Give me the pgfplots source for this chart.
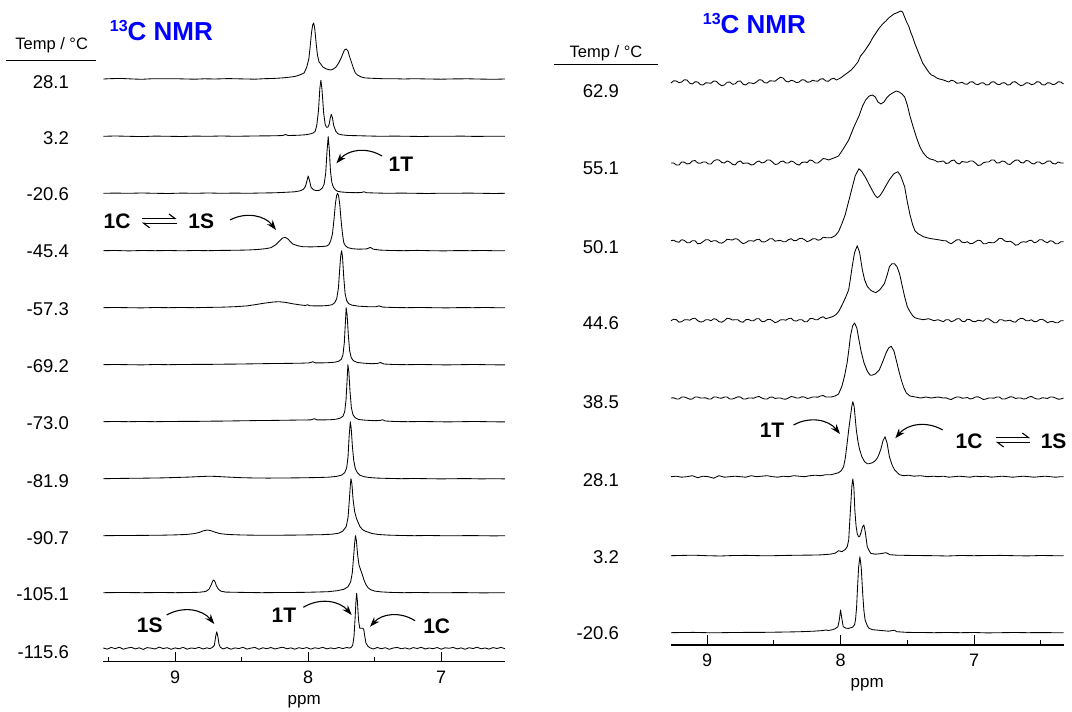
\documentclass[border=0pt]{standalone}
\usepackage{pgfplots}
\pgfplotsset{compat=1.18}
\usepackage{fontspec}
\setmainfont{Liberation Sans}
\usetikzlibrary{arrows.meta}
\newcommand{\fs}[1]{\fontsize{#1}{#1}\selectfont}
\definecolor{nmrblue}{RGB}{0,0,255}
\pgfplotsset{
  nmr/.style={
    scale only axis,
    axis x line*=bottom, axis y line=none,
    axis line style={line width=1.2pt,-},
    x dir=reverse,
    xtick={9,8,7}, xticklabels={9,8,7},
    minor xtick={9.5,8.5,7.5,6.5},
    tick align=inside,
    major tick length=10pt, minor tick length=5pt,
    every tick/.style={black,line width=1pt},
    ymin=0,
    xticklabel style={font=\fs{18}, inner sep=0pt, yshift=-9pt},
    /pgf/number format/assume math mode=true,
    xlabel={ppm},
    xlabel style={font=\fs{17}, inner sep=0pt, at={(axis description cs:0.5,0)}, anchor=center, yshift=-40pt},
    clip=false,
  },
  tr/.style={black, line width=0.85pt, line join=round, no markers, y filter/.expression={y+#1}},
}
\begin{document}
\begin{tikzpicture}[x=1pt,y=1pt]
\useasboundingbox (0,0) rectangle (1072,712);
% ---------------- LEFT PANEL ----------------
\begin{axis}[nmr, at={(103.3pt,50.3pt)}, anchor=south west,
  width=401.7pt, height=650pt, xmin=6.52, xmax=9.54, ymax=650]
% 28.1
\addplot[tr=582.7] coordinates {(9.54,0)(9.47,0.4)(9.40,0.5)(9.32,0)(9.25,-0.3)(9.18,0.2)(9.10,0.3)(9.00,0.3)(8.92,0)(8.85,-0.2)(8.78,0.2)(8.70,0)(8.60,0.4)(8.50,0.1)(8.40,-0.2)(8.33,0.3)(8.27,0.5)(8.20,1)(8.14,1.8)(8.10,2.5)(8.064,4)(8.03,6)(8.01,12)(7.995,20)(7.985,32)(7.975,46)(7.966,54)(7.958,56)(7.95,50)(7.94,36)(7.93,24)(7.918,17)(7.905,15)(7.89,12)(7.87,10.5)(7.85,9.5)(7.83,9)(7.81,10)(7.79,12)(7.77,16)(7.755,20)(7.74,25)(7.727,29)(7.714,30)(7.70,28)(7.69,23)(7.675,17)(7.66,11)(7.645,6)(7.63,4)(7.60,2)(7.57,1)(7.50,0.6)(7.44,0.3)(7.36,0.3)(7.28,0)(7.20,0.3)(7.10,0)(7.00,-0.2)(6.90,0.1)(6.80,0.2)(6.70,-0.1)(6.60,-0.3)(6.52,0)};
% 3.2
\addplot[tr=525.4] coordinates {(9.54,0)(9.45,0.3)(9.35,0)(9.25,-0.3)(9.15,0.2)(9.05,0)(8.95,-0.2)(8.85,0.2)(8.75,0)(8.65,0.3)(8.55,0)(8.45,0.2)(8.35,0.4)(8.25,0.5)(8.19,0.8)(8.17,1.8)(8.15,0.8)(8.08,1)(8.02,1.5)(7.98,2.5)(7.96,3.5)(7.947,5)(7.935,11)(7.922,26)(7.912,48)(7.904,56)(7.896,47)(7.883,23)(7.872,12)(7.862,9)(7.852,9)(7.842,12)(7.834,18)(7.826,22)(7.818,19)(7.808,11)(7.792,5)(7.775,2.5)(7.75,1.5)(7.70,0.8)(7.63,0.6)(7.55,0.3)(7.45,0)(7.35,0.2)(7.25,0)(7.15,-0.2)(7.05,0.1)(6.95,0)(6.85,0.2)(6.75,-0.1)(6.65,0)(6.52,0)};
% -20.6
\addplot[tr=468.4] coordinates {(9.54,0)(9.45,0.2)(9.35,0)(9.25,0.3)(9.15,0)(9.05,-0.2)(8.95,0.2)(8.85,0)(8.75,0.3)(8.65,0)(8.55,0.2)(8.45,0)(8.35,0.3)(8.25,0.5)(8.17,1)(8.10,1.5)(8.06,2.5)(8.035,4)(8.02,7)(8.01,12)(8.0,17.3)(7.99,13)(7.978,6)(7.96,3.5)(7.94,2.7)(7.915,3)(7.895,5)(7.88,9)(7.868,20)(7.858,42)(7.849,56.7)(7.841,44)(7.832,22)(7.822,11)(7.81,6)(7.795,3.5)(7.78,2)(7.75,1.3)(7.70,0.8)(7.64,0.6)(7.60,0.8)(7.58,1.5)(7.56,0.6)(7.50,0.3)(7.40,0)(7.30,0.2)(7.20,0)(7.10,-0.2)(7.00,0.1)(6.90,0)(6.80,0.2)(6.70,0)(6.60,-0.2)(6.52,0)};
% -45.4
\addplot[tr=411] coordinates {(9.54,0)(9.45,0.2)(9.35,-0.2)(9.25,0.2)(9.15,0)(9.05,0.2)(8.95,-0.1)(8.85,0.2)(8.75,0)(8.65,0.3)(8.55,0.4)(8.45,0.7)(8.38,1.2)(8.32,2)(8.28,3)(8.246,5.7)(8.22,9)(8.195,12.5)(8.173,13.4)(8.15,11.5)(8.13,8.5)(8.116,6.7)(8.08,5)(8.04,4)(7.98,3.8)(7.935,4)(7.89,4.2)(7.86,4.7)(7.844,6)(7.83,10)(7.817,17)(7.805,32)(7.795,47)(7.786,55)(7.779,57.4)(7.771,55)(7.762,46)(7.752,30)(7.742,17)(7.732,8)(7.72,5)(7.70,3)(7.67,2)(7.62,1.5)(7.56,1.8)(7.532,3.3)(7.51,1.5)(7.46,0.6)(7.38,0.2)(7.28,0)(7.18,0.3)(7.08,0)(6.98,-0.2)(6.88,0.1)(6.78,0)(6.68,0.2)(6.58,-0.1)(6.52,0)};
% -57.3
\addplot[tr=354] coordinates {(9.54,0)(9.45,0.2)(9.35,0)(9.25,-0.2)(9.15,0.2)(9.05,0)(8.95,0.2)(8.85,0)(8.75,0.3)(8.65,0.5)(8.55,1)(8.46,1.8)(8.40,3)(8.33,4.5)(8.26,5.7)(8.22,6)(8.17,5.3)(8.12,4)(8.06,2.8)(8.02,2.2)(8.005,3)(7.99,2)(7.95,1.8)(7.90,1.8)(7.85,2.2)(7.82,3)(7.80,5)(7.785,9)(7.772,20)(7.762,40)(7.755,52)(7.748,57)(7.741,50)(7.732,30)(7.722,14)(7.71,7)(7.695,4)(7.67,2.5)(7.62,1.5)(7.55,1)(7.49,1)(7.468,1.8)(7.44,0.6)(7.36,0.2)(7.26,0)(7.16,0.2)(7.06,0)(6.96,-0.2)(6.86,0.1)(6.76,0)(6.66,0.2)(6.56,-0.1)(6.52,0)};
% -69.2
\addplot[tr=297] coordinates {(9.54,0)(9.45,0.2)(9.35,0)(9.25,-0.2)(9.15,0.2)(9.05,0)(8.95,0.2)(8.85,0.3)(8.75,0.3)(8.65,0.5)(8.55,0.6)(8.45,0.8)(8.35,1)(8.25,1.2)(8.15,1.3)(8.05,1.5)(7.99,1.8)(7.965,3)(7.945,1.8)(7.90,1.8)(7.85,2)(7.80,2.5)(7.77,3.5)(7.75,5.5)(7.738,10)(7.728,22)(7.72,42)(7.714,57)(7.707,50)(7.698,30)(7.688,14)(7.676,7)(7.66,4)(7.63,2.2)(7.58,1.5)(7.52,1)(7.48,1.2)(7.456,2.2)(7.43,0.7)(7.36,0.2)(7.26,0)(7.16,0.2)(7.06,0)(6.96,-0.2)(6.86,0)(6.76,0.2)(6.66,0)(6.56,-0.2)(6.52,-0.2)};
% -73.0
\addplot[tr=240] coordinates {(9.54,0)(9.45,0.2)(9.35,0)(9.25,0.2)(9.15,0)(9.05,0.2)(8.95,0.3)(8.85,0.3)(8.75,0.5)(8.65,0.6)(8.55,0.8)(8.45,1)(8.35,1.2)(8.25,1.3)(8.15,1.5)(8.05,1.7)(7.98,1.8)(7.952,3)(7.935,1.8)(7.88,1.8)(7.83,2)(7.79,2.5)(7.76,3.5)(7.738,5.5)(7.725,10)(7.715,22)(7.707,42)(7.701,57)(7.694,50)(7.685,30)(7.675,14)(7.663,7)(7.647,4)(7.62,2.2)(7.57,1.5)(7.50,1)(7.46,1.2)(7.44,2)(7.42,0.7)(7.35,0.2)(7.25,0)(7.15,0.2)(7.05,0)(6.95,-0.2)(6.85,0)(6.75,0.2)(6.65,0)(6.55,-0.2)(6.52,-0.2)};
% -81.9
\addplot[tr=183] coordinates {(9.54,0)(9.40,0.3)(9.25,0.5)(9.10,0.8)(9.00,1.2)(8.90,1.6)(8.80,2.2)(8.74,2.5)(8.68,2.2)(8.60,1.6)(8.50,1)(8.40,0.7)(8.30,0.6)(8.20,0.7)(8.10,0.8)(8.00,1)(7.92,1.2)(7.85,1.5)(7.79,2.2)(7.75,3.5)(7.725,6)(7.71,11)(7.70,22)(7.692,42)(7.683,57)(7.676,50)(7.667,32)(7.657,18)(7.645,10)(7.63,6)(7.61,3.5)(7.58,2)(7.54,1.2)(7.48,0.6)(7.40,0.3)(7.30,0)(7.20,0.2)(7.10,0)(7.00,-0.2)(6.90,0)(6.80,0.1)(6.70,-0.2)(6.60,0)(6.52,-0.2)};
% -90.7
\addplot[tr=126] coordinates {(9.54,0)(9.40,0.2)(9.25,0.3)(9.10,0.5)(9.00,0.8)(8.92,1.2)(8.86,2)(8.82,3.2)(8.79,4.8)(8.757,5.7)(8.73,5)(8.70,3.5)(8.66,2)(8.60,1.2)(8.50,0.7)(8.40,0.5)(8.30,0.5)(8.20,0.5)(8.10,0.6)(8.00,0.8)(7.90,1)(7.82,1.5)(7.77,2.5)(7.74,4.5)(7.714,9)(7.70,18)(7.69,36)(7.683,50)(7.678,57)(7.671,52)(7.662,36)(7.65,24)(7.636,17)(7.62,12)(7.61,9)(7.59,6)(7.57,4.5)(7.547,3.5)(7.52,2.2)(7.47,1.2)(7.40,0.6)(7.30,0.2)(7.20,0)(7.10,0.2)(7.00,0)(6.90,-0.1)(6.80,0.1)(6.70,0)(6.60,-0.2)(6.52,0)};
% -105.1
\addplot[tr=69] coordinates {(9.54,0)(9.40,0.2)(9.25,0)(9.10,0.2)(9.00,0)(8.90,0.2)(8.82,0.4)(8.77,1.2)(8.745,3.5)(8.728,8)(8.718,11.5)(8.71,12.7)(8.70,11)(8.69,7)(8.675,3.5)(8.655,1.5)(8.62,0.6)(8.50,0.3)(8.35,0)(8.20,0.2)(8.05,0.3)(7.95,0.6)(7.85,1)(7.78,2)(7.73,3.5)(7.70,6)(7.68,11)(7.668,20)(7.658,36)(7.65,50)(7.644,57)(7.637,52)(7.628,38)(7.618,28)(7.605,22.7)(7.59,17)(7.58,12.7)(7.565,8)(7.55,5)(7.53,3)(7.50,1.6)(7.45,0.8)(7.38,0.3)(7.28,0)(7.18,0.2)(7.08,0)(6.98,-0.1)(6.88,0.1)(6.78,0)(6.68,-0.2)(6.58,0)(6.52,0)};
% -115.6
\addplot[tr=13.4] coordinates {(9.54,0.3)(9.51,-0.8)(9.48,0.9)(9.45,-0.4)(9.42,1.1)(9.39,-0.9)(9.36,0.2)(9.33,1.0)(9.30,-0.6)(9.27,0.5)(9.24,-1.1)(9.21,0.7)(9.18,0.1)(9.15,-0.7)(9.12,1.2)(9.09,-0.3)(9.06,0.6)(9.03,-1.0)(9.00,0.4)(8.97,-0.5)(8.94,1.0)(8.91,-0.9)(8.88,0.3)(8.85,-0.2)(8.82,0.9)(8.79,-0.7)(8.76,0.5)(8.74,-0.4)(8.72,0.8)(8.705,3)(8.695,12)(8.687,16.5)(8.679,12)(8.67,4)(8.66,1)(8.64,-0.6)(8.61,0.7)(8.58,-0.9)(8.55,0.4)(8.52,-0.3)(8.49,1.0)(8.46,-0.8)(8.43,0.2)(8.40,0.9)(8.37,-1.0)(8.34,0.5)(8.31,-0.4)(8.28,0.8)(8.25,-0.7)(8.22,0.3)(8.19,1.1)(8.16,-0.5)(8.13,0.4)(8.10,-0.9)(8.07,0.6)(8.04,-0.3)(8.01,0.7)(7.98,-0.8)(7.95,0.5)(7.92,-0.2)(7.89,1.0)(7.86,-0.6)(7.83,0.4)(7.80,-0.5)(7.77,0.9)(7.74,-0.3)(7.71,0.8)(7.69,0.2)(7.675,1)(7.665,3)(7.655,12)(7.647,30)(7.64,48)(7.635,55)(7.629,46)(7.621,28)(7.612,20)(7.60,20)(7.59,20)(7.582,19)(7.574,12)(7.565,5)(7.55,2)(7.535,0.5)(7.51,-0.7)(7.48,0.8)(7.45,-0.4)(7.42,0.6)(7.39,-1.0)(7.36,0.3)(7.33,0.9)(7.30,-0.5)(7.27,0.4)(7.24,-0.8)(7.21,0.7)(7.18,-0.2)(7.15,1.0)(7.12,-0.7)(7.09,0.3)(7.06,-0.4)(7.03,0.8)(7.00,-0.9)(6.97,0.5)(6.94,0.0)(6.91,0.9)(6.88,-0.6)(6.85,0.4)(6.82,-1.0)(6.79,0.6)(6.76,-0.3)(6.73,1.1)(6.70,-0.5)(6.67,0.3)(6.64,-0.8)(6.61,0.7)(6.58,-0.2)(6.55,0.9)(6.52,-0.4)};
\end{axis}
% ---------------- RIGHT PANEL ----------------
\begin{axis}[nmr, at={(671pt,67pt)}, anchor=south west,
  width=392.5pt, height=640pt, xmin=6.33, xmax=9.27, ymax=640]
% 62.9
\addplot[tr=562] coordinates {(9.27,0)(9.25,2.2)(9.23,2)(9.21,0.3)(9.19,1)(9.17,3.2)(9.15,3)(9.13,-0.2)(9.11,-1)(9.09,1.2)(9.07,1)(9.05,-1.7)(9.03,-2)(9.01,0.2)(8.99,0)(8.97,-0.2)(8.95,2)(8.93,1.7)(8.91,-1)(8.89,-2.7)(8.87,-2)(8.85,0.7)(8.83,1)(8.81,-1.2)(8.79,-1)(8.77,1.7)(8.75,2)(8.73,-1.2)(8.71,-2)(8.69,0.2)(8.67,0)(8.65,-0.7)(8.63,1)(8.61,3.2)(8.59,3)(8.57,0.3)(8.55,0)(8.53,2.2)(8.51,2)(8.49,1.8)(8.47,4)(8.45,5.7)(8.43,5)(8.41,1.8)(8.39,1)(8.37,2.7)(8.35,2)(8.33,0.3)(8.31,1)(8.29,3.2)(8.27,3)(8.25,0.8)(8.23,1)(8.21,2.7)(8.19,2)(8.17,1.8)(8.15,4)(8.13,4.2)(8.11,2)(8.09,1.8)(8.07,4)(8.05,4.7)(8.03,3)(8.00,5)(7.97,8)(7.95,10)(7.92,13)(7.90,16)(7.87,21)(7.85,27)(7.82,32)(7.80,36)(7.78,40)(7.76,45)(7.735,50)(7.71,55)(7.685,59)(7.66,62)(7.64,65)(7.62,67)(7.60,69)(7.58,70)(7.565,71)(7.55,72)(7.535,71)(7.52,66)(7.505,61)(7.49,57)(7.475,51)(7.46,46)(7.445,40)(7.43,35)(7.415,30)(7.40,25)(7.385,20)(7.37,17)(7.355,14)(7.34,11)(7.32,8)(7.30,7)(7.28,5)(7.26,4)(7.23,3)(7.19,1)(7.17,2.7)(7.15,2)(7.13,-0.2)(7.11,0)(7.09,0.7)(7.07,-1)(7.05,-1.2)(7.03,1)(7.01,1.2)(6.99,-1)(6.97,-1.7)(6.95,0)(6.93,0.2)(6.91,-2)(6.89,-1.7)(6.87,1)(6.85,1.2)(6.83,-1)(6.81,-1.7)(6.79,0)(6.77,0.2)(6.75,-2)(6.73,-1.7)(6.71,1)(6.69,1.2)(6.67,-1)(6.65,-2.7)(6.63,-2)(6.61,0.2)(6.59,0)(6.57,-1.7)(6.55,-1)(6.53,1.2)(6.51,1)(6.49,-1.7)(6.47,-2)(6.45,0.2)(6.43,0)(6.41,-1.7)(6.39,-1)(6.37,1.2)(6.35,1)(6.33,-1)};
% 55.1
\addplot[tr=482] coordinates {(9.27,0)(9.25,0)(9.23,-2)(9.21,-2)(9.19,1)(9.17,0.8)(9.15,-1)(9.13,-0.5)(9.11,2)(9.09,2.5)(9.07,0)(9.05,-0.3)(9.03,1)(9.01,1)(8.99,-1)(8.97,-1)(8.95,2)(8.93,3.3)(8.91,3)(8.89,0.5)(8.87,0)(8.85,2)(8.83,1)(8.81,-1.3)(8.79,-2)(8.77,1)(8.75,2)(8.73,-0.5)(8.71,0)(8.69,-0.2)(8.67,-2)(8.65,-1.5)(8.63,1)(8.61,2)(8.59,0)(8.57,0.7)(8.55,3)(8.53,3)(8.51,1)(8.49,-1.5)(8.47,-1)(8.45,1.3)(8.43,2)(8.41,0)(8.39,0)(8.37,2)(8.35,1)(8.33,-1.3)(8.31,-2)(8.29,0.5)(8.27,1)(8.25,0.5)(8.23,3)(8.21,2.3)(8.19,0)(8.17,0)(8.15,2)(8.13,4.5)(8.11,4)(8.09,3)(8.05,5)(8.015,7)(7.98,14)(7.939,23)(7.90,36)(7.862,47)(7.835,57)(7.812,63)(7.785,67)(7.761,68)(7.74,66)(7.72,61)(7.697,59)(7.675,61)(7.655,65)(7.634,68)(7.61,70)(7.583,72)(7.56,71)(7.54,69)(7.52,66)(7.50,58)(7.48,47)(7.456,36)(7.43,25)(7.405,16)(7.38,10)(7.354,6)(7.33,4)(7.30,3)(7.27,1)(7.23,2)(7.21,-0.5)(7.19,0)(7.17,2.3)(7.15,3)(7.13,0)(7.11,-1)(7.09,1.5)(7.07,1)(7.05,0.7)(7.03,2)(7.01,2)(6.99,0)(6.97,-2.5)(6.95,-2)(6.93,0.3)(6.91,1)(6.89,1)(6.87,3)(6.85,3)(6.83,0)(6.81,0.2)(6.79,2)(6.77,1.5)(6.75,-1)(6.73,-1.5)(6.71,1)(6.69,2.8)(6.67,3)(6.65,0.5)(6.63,0)(6.61,2.5)(6.59,2)(6.57,-0.3)(6.55,-1)(6.53,1)(6.51,1)(6.49,-1)(6.47,0)(6.45,1.8)(6.43,2)(6.41,-0.5)(6.39,-1)(6.37,1)(6.35,0)(6.33,0)};
% 50.1
\addplot[tr=403.3] coordinates {(9.27,1)(9.25,1.5)(9.23,0)(9.21,-0.5)(9.19,2)(9.17,1.3)(9.15,-1)(9.13,-1)(9.11,1)(9.09,1)(9.07,-2)(9.05,-1.8)(9.03,0)(9.01,2)(8.99,2)(8.97,0)(8.95,1)(8.93,0.8)(8.91,-1)(8.89,-1.5)(8.87,0)(8.85,2.5)(8.83,2)(8.81,1.7)(8.79,3)(8.77,2.5)(8.75,0)(8.73,-2)(8.71,-1)(8.69,0.8)(8.67,1)(8.65,0.5)(8.63,2)(8.61,2.5)(8.59,0)(8.57,-0.3)(8.55,1)(8.53,3)(8.51,3)(8.49,0.5)(8.47,1)(8.45,1.3)(8.43,0)(8.41,0)(8.39,2)(8.37,3)(8.35,1)(8.33,1.2)(8.31,3)(8.29,3.5)(8.27,2)(8.25,0)(8.23,1)(8.21,2.8)(8.19,3)(8.17,1.5)(8.15,2)(8.13,4.5)(8.11,4)(8.07,4)(8.04,6)(8.015,10)(7.99,18)(7.965,27)(7.94,40)(7.913,54)(7.89,66)(7.862,73)(7.84,70)(7.812,64)(7.785,57)(7.761,51)(7.74,46)(7.723,44)(7.705,46)(7.685,50)(7.66,56)(7.634,62)(7.60,68)(7.571,70)(7.55,66)(7.52,55)(7.50,40)(7.48,27)(7.46,17)(7.443,11)(7.42,8)(7.405,7)(7.38,5)(7.354,4)(7.32,3)(7.27,2)(7.23,1)(7.21,1)(7.19,-1)(7.17,-2)(7.15,0)(7.13,1.8)(7.11,2)(7.09,-0.5)(7.07,-1)(7.05,0)(7.03,-2)(7.01,-1.8)(6.99,0)(6.97,1.5)(6.95,1)(6.93,-2)(6.91,-2)(6.89,-0.7)(6.87,-1)(6.85,-1)(6.83,1)(6.81,3.5)(6.79,3)(6.77,0.7)(6.75,0)(6.73,0.5)(6.71,-1)(6.69,-3.5)(6.67,-3)(6.65,-0.7)(6.63,0)(6.61,-0.5)(6.59,1)(6.57,1.5)(6.55,-1)(6.53,-0.3)(6.51,2)(6.49,2)(6.47,0)(6.45,-1)(6.43,1)(6.41,0.3)(6.39,-2)(6.37,-2)(6.35,0)(6.33,0)};
% 44.6
\addplot[tr=324.3] coordinates {(9.27,0)(9.25,1.5)(9.23,1)(9.21,-1.5)(9.19,-1)(9.17,0.8)(9.15,1)(9.13,0.5)(9.11,2)(9.09,2.5)(9.07,0)(9.05,-1.3)(9.03,-1)(9.01,1)(8.99,1)(8.97,0)(8.95,2)(8.93,1.3)(8.91,-1)(8.89,-1.5)(8.87,0)(8.85,2.5)(8.83,2)(8.81,0.7)(8.79,1)(8.77,1)(8.75,-1)(8.73,-1.5)(8.71,1)(8.69,1.3)(8.67,0)(8.65,0)(8.63,2)(8.61,2)(8.59,-1)(8.57,-0.8)(8.55,1)(8.53,1.5)(8.51,0)(8.49,-2)(8.47,-1)(8.45,0.8)(8.43,1)(8.41,0.5)(8.39,2)(8.37,2.5)(8.35,0)(8.33,-0.3)(8.31,1)(8.29,1)(8.27,-1)(8.25,-1)(8.23,2)(8.21,2.3)(8.19,1)(8.17,1)(8.15,3)(8.13,4)(8.11,2)(8.06,4)(8.035,6)(8.015,9)(7.995,14)(7.977,19)(7.96,24)(7.939,31)(7.926,42)(7.913,54)(7.895,68)(7.875,75)(7.857,68)(7.837,51)(7.82,41)(7.799,34)(7.77,30)(7.736,28)(7.705,31)(7.672,37)(7.65,46)(7.634,54)(7.615,57)(7.596,57)(7.577,54)(7.558,47)(7.54,36)(7.52,24)(7.50,14)(7.48,9)(7.46,5)(7.443,3)(7.42,2)(7.38,1)(7.34,2)(7.30,0)(7.27,1)(7.23,-1)(7.21,1)(7.19,1)(7.17,-1)(7.15,0)(7.13,1.8)(7.11,2)(7.09,-0.5)(7.07,-1)(7.05,1.5)(7.03,1)(7.01,-0.8)(6.99,-1)(6.97,0.5)(6.95,0)(6.93,-0.5)(6.91,2)(6.89,1.8)(6.87,0)(6.85,-2)(6.83,-2)(6.81,1)(6.79,1)(6.77,-0.3)(6.75,0)(6.73,0.5)(6.71,-1)(6.69,-1.5)(6.67,1)(6.65,2.3)(6.63,2)(6.61,0)(6.59,0)(6.57,1)(6.55,-1)(6.53,-0.8)(6.51,1)(6.49,1.5)(6.47,0)(6.45,-2)(6.43,-1)(6.41,-0.7)(6.39,-2)(6.37,-2)(6.35,0)(6.33,0)};
% 38.5
\addplot[tr=247] coordinates {(9.27,0)(9.25,0.2)(9.23,-1)(9.21,-1)(9.19,1)(9.17,1)(9.15,0)(9.13,-1.2)(9.11,-1)(9.09,1)(9.07,1)(9.05,0)(9.03,0)(9.01,0.2)(8.99,-1)(8.97,-1)(8.95,1)(8.93,1)(8.91,0)(8.89,-0.2)(8.87,1)(8.85,1)(8.83,-1)(8.81,-1)(8.79,0)(8.77,1.2)(8.75,1)(8.73,-1)(8.71,-1)(8.69,0)(8.67,0)(8.65,-0.2)(8.63,1)(8.61,1.5)(8.59,0)(8.57,-1)(8.55,-1)(8.53,0.7)(8.51,1)(8.49,-0.5)(8.47,0)(8.45,0)(8.43,-1)(8.41,-1.2)(8.39,0)(8.37,1.5)(8.35,1)(8.33,0)(8.31,0)(8.29,1.2)(8.27,1)(8.25,-0.5)(8.23,0)(8.21,1)(8.19,1)(8.17,0.8)(8.15,2)(8.13,2.5)(8.11,1)(8.07,1)(8.04,2)(8.015,4)(7.99,11.7)(7.97,22)(7.951,35)(7.938,48)(7.926,61.7)(7.91,72)(7.895,75)(7.878,70)(7.862,58)(7.845,46)(7.824,35)(7.80,27)(7.78,23)(7.766,22.7)(7.74,24)(7.71,28)(7.685,36)(7.659,45)(7.64,50)(7.621,51.7)(7.60,47)(7.583,38)(7.565,28)(7.545,18)(7.525,10)(7.507,5)(7.48,2)(7.44,1)(7.40,0)(7.36,1)(7.32,0)(7.27,1)(7.23,0)(7.21,0.2)(7.19,-1)(7.17,-1.5)(7.15,0)(7.13,1)(7.11,1)(7.09,-0.2)(7.07,0)(7.05,0.5)(7.03,-1)(7.01,-0.5)(6.99,1)(6.97,1.2)(6.95,0)(6.93,-1.5)(6.91,-1)(6.89,0)(6.87,0)(6.85,-0.2)(6.83,1)(6.81,1)(6.79,-1)(6.77,-1)(6.75,0)(6.73,1.2)(6.71,1)(6.69,-0.5)(6.67,0)(6.65,0)(6.63,-1)(6.61,-0.7)(6.59,1)(6.57,1.5)(6.55,0)(6.53,-1)(6.51,-1)(6.49,0.2)(6.47,0)(6.45,-0.5)(6.43,1)(6.41,1)(6.39,0)(6.37,-1.2)(6.35,-1)(6.33,0)};
% 28.1
\addplot[tr=168.3] coordinates {(9.27,0)(9.23,0.5)(9.19,-0.5)(9.15,0)(9.11,1)(9.07,-1)(9.03,0.5)(8.99,0)(8.95,-1.5)(8.91,1)(8.87,-0.5)(8.83,0)(8.79,0.5)(8.75,0)(8.71,-0.5)(8.67,1)(8.63,0)(8.59,0.5)(8.55,1)(8.51,0)(8.47,-0.5)(8.43,0.5)(8.39,0)(8.35,1)(8.31,0.5)(8.27,0)(8.23,1)(8.19,1.5)(8.15,1)(8.11,2)(8.07,2)(8.04,3)(8.015,4)(7.995,6)(7.977,10)(7.965,18)(7.951,33)(7.938,48)(7.926,60)(7.916,70)(7.908,75)(7.898,70)(7.882,47)(7.868,34)(7.857,27)(7.84,20)(7.82,15)(7.80,13)(7.786,13)(7.76,14)(7.74,16)(7.723,19)(7.71,23)(7.697,28)(7.682,36)(7.667,40)(7.652,34)(7.634,20)(7.615,12)(7.596,7)(7.575,4)(7.558,2)(7.53,1)(7.49,1.5)(7.45,0.5)(7.40,1)(7.35,0)(7.30,0.5)(7.27,0)(7.23,0.5)(7.19,-0.5)(7.15,0)(7.11,0.5)(7.07,0)(7.03,-0.5)(6.99,0.5)(6.95,0)(6.91,0.5)(6.87,-0.5)(6.83,0)(6.79,0.5)(6.75,0)(6.71,-0.5)(6.67,0)(6.63,0.5)(6.59,0)(6.55,-0.5)(6.51,0)(6.47,0.5)(6.43,0)(6.39,-0.5)(6.35,0)(6.33,0)};
% 3.2
\addplot[tr=89.3] coordinates {(9.27,0)(9.18,0.3)(9.10,0.5)(9.00,0)(8.90,-0.3)(8.80,0.2)(8.70,0.3)(8.60,0)(8.50,0)(8.40,0.3)(8.30,0.5)(8.22,0.6)(8.15,0.8)(8.08,1.5)(8.04,2.5)(8.015,5)(7.99,4)(7.964,6.3)(7.95,9)(7.939,15.7)(7.926,45.7)(7.915,70)(7.908,76.7)(7.90,68)(7.893,45.7)(7.884,30)(7.875,22)(7.866,19)(7.857,19)(7.845,24)(7.835,29)(7.825,30.7)(7.815,24)(7.80,9)(7.786,5)(7.773,2.3)(7.74,1.5)(7.70,2)(7.66,3)(7.63,1)(7.58,0.5)(7.45,0.2)(7.30,0)(7.20,-0.3)(7.10,0.2)(7.00,0)(6.90,0.2)(6.80,0.3)(6.70,0)(6.60,-0.2)(6.50,0.2)(6.40,0)(6.33,0)};
% -20.6
\addplot[tr=12.3] coordinates {(9.27,0)(9.18,0.2)(9.10,0.3)(9.00,0)(8.90,0)(8.80,0.2)(8.70,0.3)(8.60,0.3)(8.50,0.5)(8.40,0.7)(8.30,1)(8.20,1.5)(8.13,2.2)(8.11,2.7)(8.09,2.2)(8.06,3)(8.04,4)(8.02,6)(8.01,12)(8.0,22.7)(7.99,14)(7.98,6)(7.96,4.5)(7.939,4.3)(7.91,5.5)(7.895,8)(7.888,12.7)(7.88,25)(7.875,39)(7.865,65)(7.855,76)(7.845,65)(7.834,39)(7.825,22)(7.816,12.7)(7.80,7)(7.786,4.3)(7.76,3)(7.72,2.5)(7.68,2)(7.64,1.5)(7.61,2.2)(7.595,2.5)(7.58,1)(7.50,0.3)(7.40,0.2)(7.30,0)(7.20,0.2)(7.10,0)(7.00,0.2)(6.90,-0.2)(6.80,0)(6.70,0.2)(6.60,0)(6.50,0.1)(6.40,0)(6.33,0)};
\end{axis}
% ---------------- ANNOTATIONS ----------------
\begin{scope}[font=\fs{18.5}]
\foreach \t/\yy in {28.1/81.7, 3.2/138, -20.6/194.3, -45.4/251.7, -57.3/309.3, -69.2/366, -73.0/422.7, -81.9/480.7, -90.7/537.7, -105.1/594.3, -115.6/651.7}
  \node[anchor=east, inner sep=0pt] at (69,712-\yy) {\t};
\foreach \t/\yy in {62.9/90.7, 55.1/168.3, 50.1/246.7, 44.6/323.3, 38.5/402.3, 28.1/480, 3.2/556.7, -20.6/633}
  \node[anchor=east, inner sep=0pt] at (619,712-\yy) {\t};
\end{scope}
\begin{scope}[font=\fs{16.5}]
\node[inner sep=0pt] at (51.7,712-45) {Temp / °C};
\node[inner sep=0pt] at (606,712-53.3) {Temp / °C};
\end{scope}
\draw[line width=1.2pt] (5.9,712-60.3) -- (96,712-60.3);
\draw[line width=1.2pt] (554,712-64.3) -- (658,712-64.3);
% 13C NMR
\node[anchor=base west, inner sep=0pt, text=nmrblue, font=\bfseries\fs{26}] at (109.7,712-40.7) {\raisebox{9pt}{\fs{16}13}C NMR};
\node[anchor=base west, inner sep=0pt, text=nmrblue, font=\bfseries\fs{26}] at (702.7,712-33.3) {\raisebox{9pt}{\fs{16}13}C NMR};
% bold species labels
\begin{scope}[font=\bfseries\fs{21}]
\node at (401,712-164) {1T};
\node at (117,712-221.7) {1C};
\node at (201.3,712-221.7) {1S};
\node at (149.7,712-625) {1S};
\node at (284,712-615) {1T};
\node at (436.7,712-626.7) {1C};
\node at (772,712-430) {1T};
\node at (969,712-441.7) {1C};
\node at (1053.6,712-441.7) {1S};
\end{scope}
% harpoons
\draw[line width=1.1pt, -{Straight Barb[harpoon, length=6pt, width=9pt]}] (142,712-218.5) -- (176.6,712-218.5);
\draw[line width=1.1pt, -{Straight Barb[harpoon, length=6pt, width=9pt]}] (176.6,712-223.3) -- (142,712-223.3);
\draw[line width=1.1pt, -{Straight Barb[harpoon, length=6pt, width=9pt]}] (996,712-437.5) -- (1030,712-437.5);
\draw[line width=1.1pt, -{Straight Barb[harpoon, length=6pt, width=9pt]}] (1030,712-442.5) -- (996,712-442.5);
% curved arrows
\begin{scope}[line width=1.1pt, -{Stealth[length=10pt, width=7pt]}]
\draw (382,712-156) to[bend right=40] (336.4,712-163.3);
\draw (230,712-220) to[bend left=40] (276,712-230);
\draw (166.7,712-615) to[bend left=40] (214.3,712-624);
\draw (303.3,712-607.3) to[bend left=40] (351.7,712-615);
\draw (415,712-620.7) to[bend right=40] (370,712-626.7);
\draw (793.6,712-425) to[bend left=40] (840,712-434);
\draw (942.7,712-430) to[bend right=40] (895.3,712-438.3);
\end{scope}
\end{tikzpicture}
\end{document}
